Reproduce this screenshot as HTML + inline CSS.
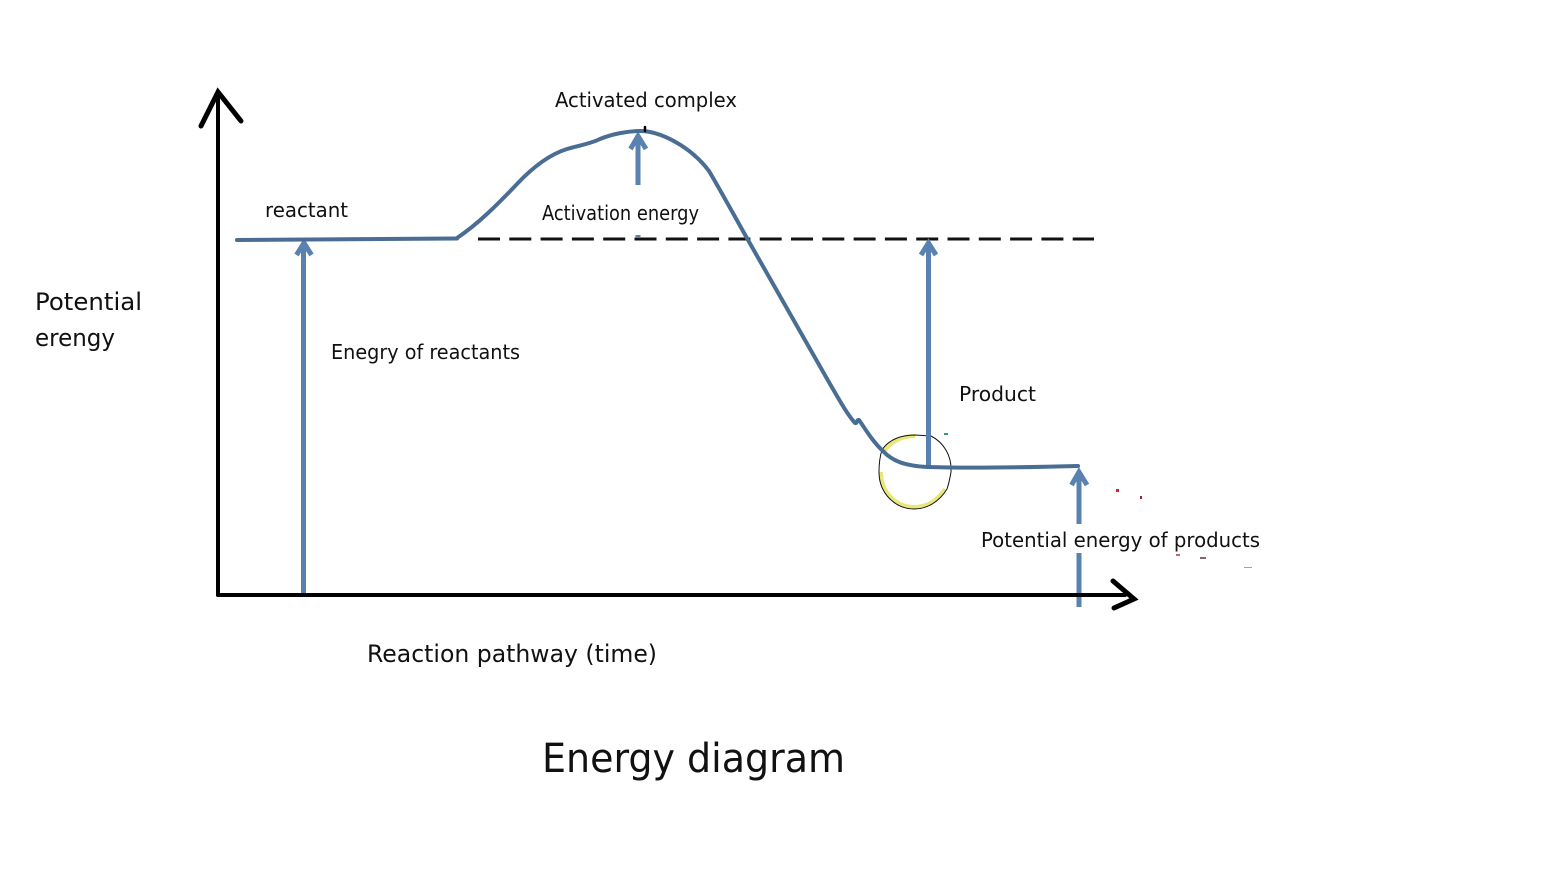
<!DOCTYPE html>
<html><head><meta charset="utf-8"><style>
html,body{margin:0;padding:0;background:#fff;width:1554px;height:884px;overflow:hidden}
svg{display:block}
text{font-family:"DejaVu Sans",sans-serif;fill:#111}
</style></head><body>
<svg width="1554" height="884" viewBox="0 0 1554 884" xmlns="http://www.w3.org/2000/svg">
<rect width="1554" height="884" fill="#fff"/>
<!-- highlight circle -->
<path d="M884 452 C890 442 902 436 915 436" fill="none" stroke="#e9e77a" stroke-width="4"/>
<path d="M881 472 C881 492 896 507 914 507 C926 507 937 501 945 489" fill="none" stroke="#e9e77a" stroke-width="4"/>
<path d="M882 450 C889 439 902 435 915 435 L931 436 C943 442 952 455 951 472 C950 478 949 483 947 489 C939 502 927 509 914 509 C896 509 879 494 879 472 C879 463 880 456 882 450Z" fill="none" stroke="#111" stroke-width="1"/>
<!-- dashed line -->
<line x1="478" y1="239" x2="1094" y2="239" stroke="#111" stroke-width="3" stroke-dasharray="22 9.300"/>
<!-- blue arrows -->
<g fill="none" stroke="#5a82b0" stroke-linecap="butt" stroke-linejoin="miter">
<line x1="303.500" y1="597" x2="303.500" y2="246" stroke-width="5"/>
<path d="M296.500 255 L304 243 L311.500 255" stroke-width="5"/>
<line x1="928.500" y1="467" x2="928.500" y2="246" stroke-width="5"/>
<path d="M921 255 L928.500 243 L936 255" stroke-width="5"/>
<line x1="638" y1="185" x2="638" y2="140" stroke-width="5"/>
<path d="M630.500 149 L638 136 L646 149" stroke-width="5"/>
<line x1="638" y1="235" x2="638" y2="238" stroke-width="5"/>
<line x1="1079" y1="524" x2="1079" y2="476" stroke-width="5"/>
<path d="M1071.500 485 L1079 472 L1087 485" stroke-width="5"/>
<line x1="1079" y1="553" x2="1079" y2="607" stroke-width="5"/>
</g>
<!-- curve -->
<g fill="none" stroke="#4a6d94" stroke-linecap="round" stroke-linejoin="round">
<path d="M237 240 L457 238.500" stroke-width="4"/>
<path d="M457 238 C478 224 497 205 517 184 C532 168 548 155 567 149 C580 145 590 144 600 139 C612 134 628 131 640 131 C660 131 690 146 709 171 C722 193 735 217 748 240 L830 384 C840 401 847 414 855 423 C857 424 857 419 859 420 C866 430 873 442 883 451 C892 461 905 466 928 467 L950 467.500 C990 468 1040 467 1078 466" stroke-width="4"/>
</g>
<!-- axes -->
<g fill="none" stroke="#000" stroke-linecap="round" stroke-linejoin="miter">
<line x1="218" y1="94" x2="218" y2="595" stroke-width="4"/>
<line x1="218" y1="595" x2="1125" y2="595" stroke-width="4"/>
<path d="M201 126 L218 92 L241 121" stroke-width="5"/>
<path d="M1113 581 L1134 599 L1114 608" stroke-width="5"/>
<line x1="645" y1="127" x2="645" y2="131" stroke-width="2.500"/>
</g>
<!-- specks -->
<g>
<rect x="1116" y="489" width="3" height="3" fill="#c23"/>
<rect x="1140" y="496" width="2" height="3" fill="#923"/>
<rect x="944" y="433" width="4" height="2" fill="#397"/>
<rect x="1244" y="567" width="8" height="1" fill="#d88"/>
<rect x="1176" y="554" width="4" height="2" fill="#c66"/>
<rect x="1200" y="557" width="6" height="2" fill="#866"/>
</g>
<!-- labels -->
<text x="555" y="107" font-size="20" textLength="182" lengthAdjust="spacingAndGlyphs">Activated complex</text>
<text x="542" y="220" font-size="20" textLength="157" lengthAdjust="spacingAndGlyphs">Activation energy</text>
<text x="265" y="217" font-size="20" textLength="83" lengthAdjust="spacingAndGlyphs">reactant</text>
<text x="35" y="310" font-size="24" textLength="107" lengthAdjust="spacingAndGlyphs">Potential</text>
<text x="35" y="346" font-size="24" textLength="80" lengthAdjust="spacingAndGlyphs">erengy</text>
<text x="331" y="359" font-size="20" textLength="189" lengthAdjust="spacingAndGlyphs">Enegry of reactants</text>
<text x="959" y="401" font-size="20" textLength="77" lengthAdjust="spacingAndGlyphs">Product</text>
<text x="981" y="547" font-size="20" textLength="279" lengthAdjust="spacingAndGlyphs">Potential energy of products</text>
<text x="367" y="662" font-size="24" textLength="290" lengthAdjust="spacingAndGlyphs">Reaction pathway (time)</text>
<text x="542" y="772" font-size="40" textLength="303" lengthAdjust="spacingAndGlyphs">Energy diagram</text>
</svg>
</body></html>
